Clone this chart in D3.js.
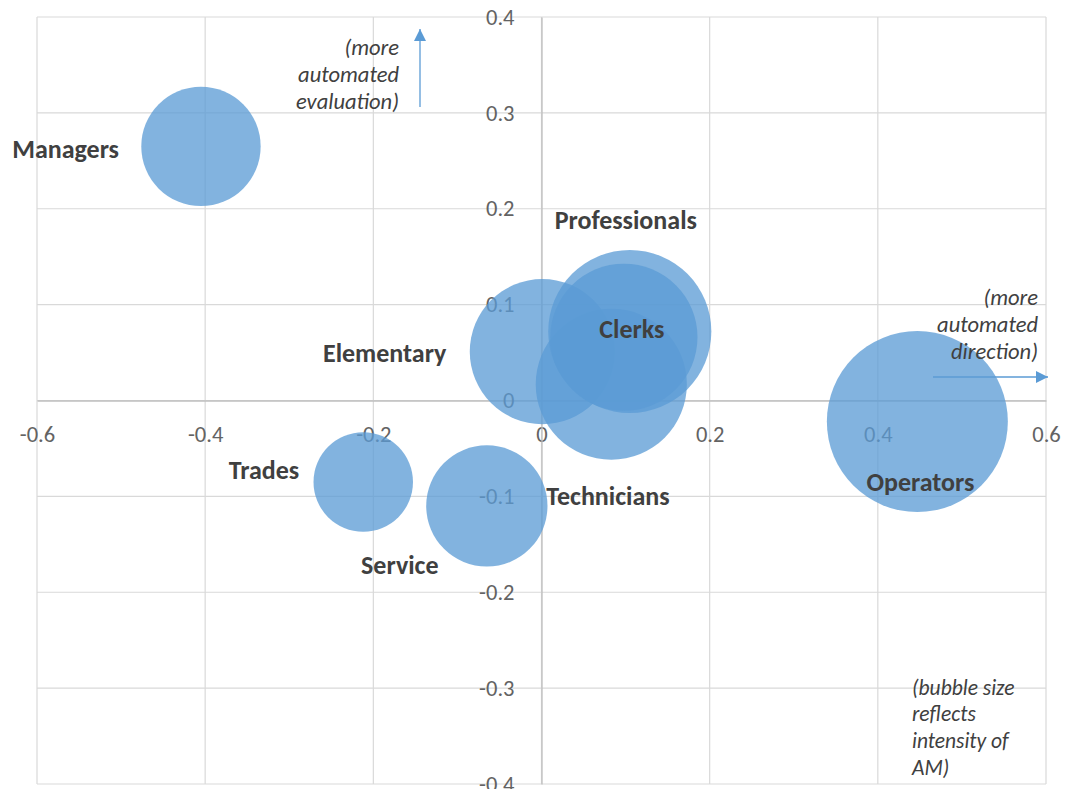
<!DOCTYPE html>
<html>
<head>
<meta charset="utf-8">
<script src="https://cdn.jsdelivr.net/npm/d3@7"></script>
<style>
  html, body { margin: 0; padding: 0; background: #ffffff; }
  svg { display: block; }
</style>
</head>
<body>
<svg id="chart" width="1073" height="789"></svg>
<script>
// ---- data ----
const occupations = ["Managers", "Trades", "Service", "Elementary", "Technicians", "Professionals", "Clerks", "Operators"];
const directionX  = [-0.405, -0.212, -0.065, 0.001, 0.083, 0.105, 0.098, 0.447];   // more automated direction
const evaluationY = [0.265, -0.085, -0.110, 0.051, 0.017, 0.072, 0.066, -0.022];   // more automated evaluation
const intensityAM = [0.435, 0.302, 0.449, 0.643, 0.697, 0.812, 0.661, 1.000];     // bubble size
const xTickValues = [-0.6, -0.4, -0.2, 0, 0.2, 0.4, 0.6];
const xTickLabels = ["-0.6", "-0.4", "-0.2", "0", "0.2", "0.4", "0.6"];
const yTickValues = [-0.4, -0.3, -0.2, -0.1, 0, 0.1, 0.2, 0.3, 0.4];
const yTickLabels = ["-0.4", "-0.3", "-0.2", "-0.1", "0", "0.1", "0.2", "0.3", "0.4"];

// ---- label layout (pixel offsets from bubble centre) ----
const labelLayout = [
  {dx: -82, dy: 2,   anchor: "end"},
  {dx: -64, dy: -12, anchor: "end"},
  {dx: -87, dy: 59,  anchor: "middle"},
  {dx: -96, dy: 1,   anchor: "end"},
  {dx: -65, dy: 112, anchor: "start"},
  {dx: -4,  dy: -112, anchor: "middle"},
  {dx: 8,   dy: -8,  anchor: "middle"},
  {dx: 3,   dy: 60,  anchor: "middle"}
];

(function () {
const svg = d3.select("#chart");
const pLeft = 37, pRight = 1046, pTop = 17, pBottom = 784;
const x = d3.scaleLinear().domain([-0.6, 0.6]).range([pLeft, pRight]);
const y = d3.scaleLinear().domain([-0.4, 0.4]).range([pBottom, pTop]);
const r = d3.scaleSqrt().domain([0, 1]).range([0, 90.5]);

const gridColor = "#d9d9d9";
const tickFont = "Carlito, Calibri, Lato, 'Open Sans', sans-serif";

// gridlines
const grid = svg.append("g");
grid.selectAll("line.v").data(xTickValues).join("line").attr("class", "v")
  .attr("x1", d => x(d)).attr("x2", d => x(d))
  .attr("y1", pTop).attr("y2", pBottom)
  .attr("stroke", gridColor).attr("stroke-width", 1.2);
grid.selectAll("line.h").data(yTickValues).join("line").attr("class", "h")
  .attr("x1", pLeft).attr("x2", pRight)
  .attr("y1", d => y(d)).attr("y2", d => y(d))
  .attr("stroke", gridColor).attr("stroke-width", 1.2);

// axes crossing at 0
const xAxis = d3.axisBottom(x).tickValues(xTickValues)
  .tickFormat((d, i) => xTickLabels[i]).tickSizeInner(0).tickSizeOuter(0).tickPadding(26);
const yAxis = d3.axisLeft(y).tickValues(yTickValues)
  .tickFormat((d, i) => yTickLabels[i]).tickSizeInner(0).tickSizeOuter(0).tickPadding(27);

const gx = svg.append("g").attr("transform", `translate(0,${y(0)})`).call(xAxis);
const gy = svg.append("g").attr("transform", `translate(${x(0)},0)`).call(yAxis);
[gx, gy].forEach(g => {
  g.select(".domain").attr("stroke", "#bfbfbf").attr("stroke-width", 1.3);
  g.selectAll("text").attr("font-family", tickFont).attr("font-size", 22.5)
    .attr("fill", "#636363");
});

// bubbles
const idx = d3.range(occupations.length);
svg.append("g").selectAll("circle").data(idx).join("circle")
  .attr("cx", i => x(directionX[i]))
  .attr("cy", i => y(evaluationY[i]))
  .attr("r", i => r(intensityAM[i]))
  .attr("fill", "#5b9bd5")
  .attr("fill-opacity", 0.76);

// data labels
svg.append("g").selectAll("text").data(idx).join("text")
  .attr("x", i => x(directionX[i]) + labelLayout[i].dx)
  .attr("y", i => y(evaluationY[i]) + labelLayout[i].dy)
  .attr("dy", "0.35em")
  .attr("text-anchor", i => labelLayout[i].anchor)
  .attr("font-family", tickFont)
  .attr("font-weight", "bold")
  .attr("font-size", 26)
  .attr("fill", "#404040")
  .text(i => occupations[i]);

// annotations
function note(lines, xPos, yStart, anchor, lh, fs) {
  const t = svg.append("text")
    .attr("font-family", tickFont).attr("font-style", "italic")
    .attr("font-size", fs).attr("fill", "#404040")
    .attr("text-anchor", anchor);
  lines.forEach((l, k) => {
    t.append("tspan").attr("x", xPos).attr("y", yStart + k * lh).attr("dy", "0.35em").text(l);
  });
}
note(["(more", "automated", "evaluation)"], 399, 47, "end", 27, 22.5);
note(["(more", "automated", "direction)"], 1038, 297, "end", 27, 22.5);
note(["(bubble size", "reflects", "intensity of", "AM)"], 912, 687, "start", 26.7, 21.5);

// arrows
const arrowColor = "#5b9bd5";
const defs = svg.append("defs");
defs.append("marker").attr("id", "arrow")
  .attr("viewBox", "0 0 10 10").attr("refX", 10).attr("refY", 5)
  .attr("markerWidth", 12).attr("markerHeight", 12)
  .attr("markerUnits", "userSpaceOnUse")
  .attr("orient", "auto")
  .append("path").attr("d", "M0,0 L10,5 L0,10 Z").attr("fill", arrowColor);

svg.append("line")
  .attr("x1", 420).attr("y1", 107).attr("x2", 420).attr("y2", 29)
  .attr("stroke", arrowColor).attr("stroke-width", 1.3)
  .attr("marker-end", "url(#arrow)");
svg.append("line")
  .attr("x1", 933).attr("y1", 377).attr("x2", 1048).attr("y2", 377)
  .attr("stroke", arrowColor).attr("stroke-width", 1.3)
  .attr("marker-end", "url(#arrow)");
})();
</script>
</body>
</html>
